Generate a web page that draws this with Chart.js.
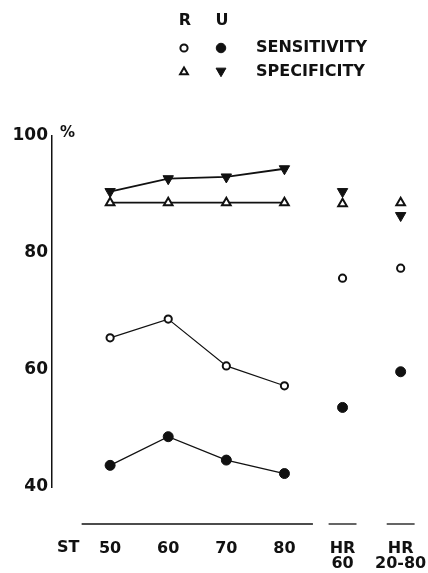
<!DOCTYPE html>
<html>
<head>
<meta charset="utf-8">
<script src="https://cdn.jsdelivr.net/npm/chart.js@4/dist/chart.umd.min.js"></script>
<style>
  html, body { margin: 0; padding: 0; background: #fff; }
  .wrap { width: 428px; height: 573px; position: relative; }
</style>
</head>
<body>
<div class="wrap"><canvas id="chart"></canvas></div>
<script>
// groups along the bottom: ST 50..80, then the two HR columns
const categories = ['50', '60', '70', '80', ['HR', '60'], ['HR', '20-80']];
const groups = [[0, 3], [4, 4], [5, 5]];
const joined = 4; // only the ST points are joined by a line

const sensR = [65.5, 68.7, 60.7, 57.3, 75.7, 77.4];
const sensU = [43.7, 48.6, 44.6, 42.3, 53.6, 59.7];
const specR = [88.6, 88.6, 88.6, 88.6, 88.4, 88.6];
const specU = [90.5, 92.7, 93.0, 94.4, 90.5, 86.4];

const yTicks = [40, 60, 80, 100];

const FONT = "'DejaVu Sans', 'Liberation Sans', sans-serif";
const INK = '#111';

const toPoints = (vals) => vals.map((y, x) => ({ x, y }));
const hideTail = { borderColor: (c) => (c.p1DataIndex >= joined ? 'rgba(0,0,0,0)' : undefined) };

const markers = {
  sensR: { pointStyle: 'circle', radius: 3.6, borderWidth: 2, fill: '#fff' },
  sensU: { pointStyle: 'circle', radius: 5, borderWidth: 1, fill: INK },
  specR: { pointStyle: 'triangle', radius: 5, borderWidth: 2, fill: '#fff', rotation: 0 },
  specU: { pointStyle: 'triangle', radius: 6, borderWidth: 1, fill: INK, rotation: 180 },
};

function dataset(label, vals, m, lineWidth) {
  return {
    label,
    data: toPoints(vals),
    showLine: true,
    borderColor: INK,
    borderWidth: lineWidth,
    pointStyle: m.pointStyle,
    pointRadius: m.radius,
    pointBorderWidth: m.borderWidth,
    pointBorderColor: INK,
    pointBackgroundColor: m.fill,
    pointRotation: m.rotation || 0,
    segment: hideTail,
  };
}

// legend block, y-axis "%" and the broken baseline with "ST"
const decorations = {
  id: 'decorations',
  afterDraw(chart) {
    const { ctx, chartArea, scales } = chart;
    const x = scales.x, y = scales.y;
    const drawPoint = Chart.helpers.drawPoint;
    ctx.save();
    ctx.fillStyle = INK;
    ctx.strokeStyle = INK;

    // legend
    ctx.font = `bold 16px ${FONT}`;
    ctx.textBaseline = 'middle';
    ctx.textAlign = 'center';
    ctx.fillText('R', 185, 21);
    ctx.fillText('U', 222, 21);
    const sym = (m, cx, cy, k) => {
      ctx.fillStyle = m.fill;
      ctx.lineWidth = m.borderWidth;
      drawPoint(ctx, { pointStyle: m.pointStyle, radius: m.radius * k, rotation: m.rotation || 0, borderWidth: m.borderWidth }, cx, cy);
    };
    sym(markers.sensR, 184, 48, 1);
    sym(markers.sensU, 221, 48, 0.95);
    sym(markers.specR, 184, 72, 0.9);
    sym(markers.specU, 221, 71, 0.95);
    ctx.fillStyle = INK;
    ctx.textAlign = 'left';
    ctx.fillText('SENSITIVITY', 256, 48);
    ctx.fillText('SPECIFICITY', 256, 72);

    // percent sign next to the top of the axis
    ctx.font = `bold 15px ${FONT}`;
    ctx.fillText('%', 60, y.getPixelForValue(100) - 3);

    // broken baseline under the groups
    const by = chartArea.bottom + 37;
    ctx.lineWidth = 1.3;
    groups.forEach(([a, b]) => {
      const pad = a === b ? 0.24 : 0.49;
      ctx.beginPath();
      ctx.moveTo(x.getPixelForValue(a - pad), by);
      ctx.lineTo(x.getPixelForValue(b + pad), by);
      ctx.stroke();
    });

    // "ST" caption before the first group
    ctx.font = `bold 16px ${FONT}`;
    ctx.textAlign = 'center';
    ctx.fillText('ST', x.getPixelForValue(0) - 42, chartArea.bottom + 61);
    ctx.restore();
  },
};

new Chart(document.getElementById('chart'), {
  type: 'scatter',
  data: {
    datasets: [
      dataset('R sensitivity', sensR, markers.sensR, 1.2),
      dataset('U sensitivity', sensU, markers.sensU, 1.3),
      dataset('R specificity', specR, markers.specR, 1.8),
      dataset('U specificity', specU, markers.specU, 1.8),
    ],
  },
  options: {
    responsive: true,
    maintainAspectRatio: false,
    animation: false,
    layout: { padding: { top: 136, right: 5, left: 0, bottom: 0 } },
    plugins: { legend: { display: false }, tooltip: { enabled: false } },
    scales: {
      x: {
        type: 'linear',
        min: -1,
        max: 5.35,
        grid: { display: false, drawTicks: false },
        border: { display: false },
        afterBuildTicks: (s) => { s.ticks = categories.map((_, i) => ({ value: i })); },
        afterFit: (s) => { s.height = 86; s.paddingLeft = 0; s.paddingRight = 0; },
        ticks: {
          autoSkip: false,
          maxRotation: 0,
          padding: 54,
          color: INK,
          font: { family: FONT, size: 16, weight: 'bold', lineHeight: 0.95 },
          callback: (v) => categories[v],
        },
      },
      y: {
        min: 40,
        max: 100,
        grid: { display: false, drawTicks: false },
        border: { display: true, color: INK, width: 1.5 },
        afterBuildTicks: (s) => { s.ticks = yTicks.map((v) => ({ value: v })); },
        afterFit: (s) => { s.width = 52; s.paddingTop = 0; s.paddingBottom = 0; },
        ticks: {
          padding: 4,
          color: INK,
          font: { family: FONT, size: 17, weight: 'bold' },
        },
      },
    },
  },
  plugins: [decorations],
});
</script>
</body>
</html>
